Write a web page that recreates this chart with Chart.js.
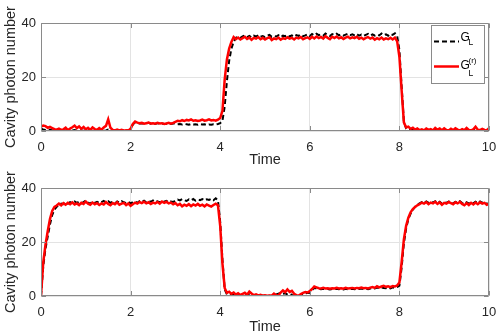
<!DOCTYPE html>
<html>
<head>
<meta charset="utf-8">
<script src="https://cdn.jsdelivr.net/npm/chart.js@4.4.1/dist/chart.umd.min.js"></script>
<style>
  html, body { margin: 0; padding: 0; background: #fff; }
  #wrap { position: relative; width: 499px; height: 336px; }
  canvas { position: absolute; left: 0; }
  #c1 { top: 0; }
  #c2 { top: 168px; }
</style>
</head>
<body>
<div id="wrap">
  <canvas id="c1" width="499" height="168"></canvas>
  <canvas id="c2" width="499" height="168"></canvas>
</div>
<script>
// ---- data (sampled every 0.05 time units, 0..10) ----
const times = Array.from({length: 201}, (_, i) => +(i * 0.05).toFixed(2));
const xTicks = [0, 2, 4, 6, 8, 10];
const yTicks = [0, 20, 40];
const seriesNames = ['G_L', 'G_L^(r)'];

const topGL = [
 0.9,0.6,0.4,0.3,0.5,0.2,0.3,0.1,0.2,0.1,
 0.3,0.2,0.1,0.3,0.2,0.4,0.1,0.3,0.2,0.1,
 0.2,0.3,0.1,0.2,0.4,0.1,0.2,0.3,0.1,0.2,
 0.5,0.3,0.1,0.2,0.1,0.3,0.1,0.2,0.1,0.2,
 0.6,2.4,3.2,3.0,2.8,2.9,2.7,2.8,3.0,2.7,
 2.8,2.6,2.9,2.7,2.8,2.6,2.7,2.9,2.6,2.8,
 2.7,2.5,2.6,2.4,2.6,2.5,2.3,2.6,2.4,2.5,
 2.3,2.6,2.4,2.5,2.2,2.4,2.3,2.5,2.4,2.6,
 2.9,3.8,9.0,18.5,26.0,30.5,33.0,34.5,34.9,34.5,
 35.0,35.4,34.8,35.2,34.7,35.3,35.0,35.5,34.9,35.2,
 34.8,35.3,35.6,34.9,35.2,35.0,35.5,34.8,35.3,35.1,
 35.6,35.0,35.4,34.9,35.5,35.2,35.7,35.1,35.4,35.8,
 35.2,35.9,35.4,36.0,35.5,35.8,35.3,36.1,35.6,35.2,
 35.9,35.5,36.0,35.4,35.8,35.3,35.7,36.0,35.5,35.8,
 35.4,35.9,35.3,35.7,35.2,35.6,36.0,35.4,35.8,35.3,
 35.7,35.4,36.1,35.5,35.8,35.3,36.0,35.6,36.2,35.2,
 30.0,16.5,3.5,0.9,0.6,0.3,0.5,0.2,0.4,0.1,
 0.3,0.1,0.4,0.2,0.3,0.1,0.5,0.2,0.4,0.1,
 0.5,0.2,0.1,0.3,0.1,0.4,0.2,0.1,0.3,0.1,
 0.5,0.2,0.1,0.3,0.6,0.2,0.1,0.3,0.2,0.1,
 0.4
];
const topGLr = [
 1.6,2.0,1.8,1.2,1.5,1.1,0.7,0.5,0.9,0.4,
 0.6,1.2,0.3,0.9,1.4,2.0,1.1,1.7,0.8,1.5,
 0.6,1.2,0.4,1.3,0.7,0.4,1.1,0.5,1.3,1.9,
 4.3,1.2,0.4,0.2,0.5,0.2,0.4,0.1,0.3,0.2,
 0.8,2.6,3.5,3.1,2.9,3.0,2.7,2.9,3.1,2.8,
 2.9,2.7,3.0,2.8,2.9,2.6,2.8,3.0,2.7,3.0,
 3.4,3.8,3.6,4.0,3.7,4.1,3.9,4.3,3.8,4.0,
 3.7,3.9,4.2,3.8,4.0,4.3,3.9,4.1,3.8,4.2,
 4.8,7.5,19.0,26.5,30.5,33.0,34.8,34.0,34.6,33.9,
 34.4,34.9,34.1,34.6,33.8,34.5,34.2,34.8,34.0,34.5,
 33.9,34.4,34.7,33.7,34.3,34.0,34.6,33.8,34.4,34.1,
 34.7,34.2,34.5,33.9,34.6,34.3,34.8,34.0,34.4,34.7,
 34.1,34.9,34.3,35.0,34.4,34.8,34.2,35.1,34.5,34.0,
 34.9,34.4,35.0,34.3,34.7,34.1,34.6,34.9,34.3,34.7,
 34.4,34.9,34.2,34.6,34.0,34.5,34.8,34.2,34.6,33.8,
 34.4,34.0,34.6,33.9,34.3,34.0,34.5,33.9,34.6,33.2,
 27.5,15.0,3.2,1.3,1.6,0.8,1.2,0.5,0.9,0.3,
 0.6,0.2,0.9,0.4,0.7,0.2,1.1,0.5,0.9,0.3,
 1.0,0.4,0.2,0.8,0.3,1.0,0.5,0.2,0.7,0.3,
 1.1,0.4,0.2,0.6,1.6,0.5,0.3,0.8,0.4,0.3,
 1.0
];
const botGL = [
 0.0,11.0,17.5,22.0,26.5,30.0,32.0,33.0,33.8,34.2,
 34.0,34.6,34.2,34.8,34.4,35.0,34.5,34.9,34.3,34.8,
 35.3,34.6,34.2,35.0,34.5,34.9,34.4,34.8,35.2,34.6,
 35.1,34.5,34.9,34.3,35.0,34.6,35.1,34.7,34.4,34.9,
 34.3,34.8,35.0,34.5,35.1,34.8,35.3,34.7,35.2,34.9,
 35.4,34.8,35.1,34.7,35.3,34.9,35.2,34.6,35.0,34.8,
 35.3,35.7,35.4,35.9,35.5,35.2,35.8,35.4,35.9,35.3,
 35.7,35.5,35.9,35.4,35.8,35.6,36.0,35.5,36.2,35.4,
 27.5,13.5,2.5,0.6,0.4,0.3,0.5,0.2,0.4,0.1,
 0.3,0.6,0.2,0.8,0.4,0.1,0.3,0.1,0.2,0.1,
 0.1,0.0,0.1,0.0,0.3,0.6,0.9,1.2,0.8,1.0,
 0.6,0.8,0.4,0.2,0.1,0.0,0.3,0.7,1.0,1.1,
 1.2,2.2,3.0,2.9,2.6,2.5,2.7,2.5,2.6,2.4,
 2.6,2.5,2.7,2.5,2.6,2.4,2.7,2.5,2.6,2.7,
 2.5,2.7,2.6,2.8,2.6,2.7,2.5,2.8,3.0,2.8,
 3.1,2.9,3.2,3.0,2.9,3.1,2.8,3.2,3.0,3.3,
 3.8,10.5,19.5,25.0,28.5,30.5,32.0,33.0,33.8,34.3,
 34.8,34.4,35.0,34.5,34.9,34.6,35.1,34.4,34.9,34.2,
 34.8,34.5,35.0,34.7,34.3,34.9,34.6,35.1,34.4,34.0,
 34.7,34.2,34.8,34.3,34.9,34.4,35.0,34.5,34.8,34.2,
 34.3
];
const botGLr = [
 0.0,12.5,19.0,24.0,28.5,31.5,33.0,33.5,34.2,33.6,
 34.4,33.8,34.5,34.0,34.7,33.9,34.3,33.7,34.5,34.1,
 35.0,34.2,33.8,34.6,34.0,34.4,33.7,34.3,33.9,34.8,
 34.1,33.6,34.4,34.0,34.7,33.8,34.2,34.5,33.7,34.3,
 33.4,34.0,34.6,34.2,34.8,34.4,34.9,34.3,34.7,34.1,
 34.6,34.3,34.8,34.2,35.0,34.5,34.9,34.3,34.6,34.0,
 34.4,33.6,34.1,33.2,33.8,33.4,34.0,33.3,33.9,33.5,
 34.1,33.4,33.8,33.2,33.9,33.5,33.1,33.7,34.2,33.6,
 26.0,12.0,3.0,1.2,1.6,0.8,1.3,0.5,1.0,0.4,
 0.8,1.2,0.5,1.6,0.9,0.3,0.6,0.2,0.4,0.1,
 0.3,0.1,0.2,0.1,0.9,0.3,0.2,1.3,2.1,1.4,
 2.4,1.5,1.9,0.8,0.3,0.1,0.7,1.2,1.5,1.3,
 1.8,2.6,3.5,3.2,2.9,2.8,3.0,2.8,2.9,2.7,
 2.9,2.8,3.0,2.8,2.9,2.7,3.0,2.8,2.9,3.0,
 2.8,3.0,2.9,3.1,2.9,3.0,2.8,3.1,3.3,3.0,
 3.6,3.2,3.5,3.8,3.4,3.6,3.3,3.7,3.5,3.9,
 5.0,12.5,21.0,26.0,29.0,31.0,32.2,33.0,33.6,34.0,
 34.6,34.2,34.8,34.0,34.6,34.3,34.9,34.1,34.7,33.8,
 34.5,34.2,34.8,34.4,34.0,34.7,34.3,34.9,34.1,33.6,
 34.4,33.7,34.5,33.9,34.6,34.0,34.7,34.2,34.5,33.8,
 34.1
];

// ---- styling ----
const FONT = "'Liberation Sans', Arial, Helvetica, sans-serif";
Chart.defaults.font.family = FONT;
Chart.defaults.color = '#262626';

const boxPlugin = {
  id: 'matlabBox',
  afterDatasetsDraw(chart) {
    const {ctx, chartArea: a, scales: {x, y}} = chart;
    ctx.save();
    ctx.strokeStyle = '#8a8a8a';
    ctx.lineWidth = 1;
    const L = Math.round(a.left) + 0.5, R = Math.round(a.right) - 0.5;
    const T = Math.round(a.top) + 0.5, B = Math.round(a.bottom) - 0.5;
    ctx.beginPath();
    ctx.rect(L, T, R - L, B - T);
    const tl = 4.5;
    xTicks.forEach(v => {
      const px = Math.round(x.getPixelForValue(v)) + 0.5;
      ctx.moveTo(px, B); ctx.lineTo(px, B - tl);
      ctx.moveTo(px, T); ctx.lineTo(px, T + tl);
    });
    yTicks.forEach(v => {
      const py = Math.round(y.getPixelForValue(v)) + 0.5;
      ctx.moveTo(L, py); ctx.lineTo(L + tl, py);
      ctx.moveTo(R, py); ctx.lineTo(R - tl, py);
    });
    ctx.stroke();
    ctx.restore();
  }
};

const legendPlugin = {
  id: 'matlabLegend',
  afterDraw(chart, args, opts) {
    if (!opts || !opts.show) return;
    const ctx = chart.ctx;
    ctx.save();
    ctx.fillStyle = '#fff';
    ctx.fillRect(431, 25, 53, 58);
    ctx.strokeStyle = '#8a8a8a';
    ctx.lineWidth = 1;
    ctx.strokeRect(431.5, 25.5, 53, 58);
    ctx.strokeStyle = '#000';
    ctx.lineWidth = 2;
    ctx.setLineDash([5, 3]);
    ctx.beginPath(); ctx.moveTo(434, 41.5); ctx.lineTo(459, 41.5); ctx.stroke();
    ctx.setLineDash([]);
    ctx.strokeStyle = '#ff0000';
    ctx.lineWidth = 2.5;
    ctx.beginPath(); ctx.moveTo(434, 66.5); ctx.lineTo(459, 66.5); ctx.stroke();
    ctx.fillStyle = '#000';
    ctx.textBaseline = 'alphabetic';
    ctx.textAlign = 'left';
    ctx.font = '12px ' + FONT;
    ctx.fillText('G', 460.5, 41);
    ctx.fillText('G', 460.5, 68.5);
    ctx.font = '8.5px ' + FONT;
    ctx.fillText('L', 468.5, 45);
    ctx.fillText('L', 468.5, 75.5);
    ctx.font = '8px ' + FONT;
    ctx.fillText('(r)', 468.5, 62.5);
    ctx.restore();
  }
};

function makeChart(id, gl, glr, padTop, xAxisH, xTitlePadBottom, showLegend) {
  return new Chart(document.getElementById(id), {
    type: 'line',
    data: {
      labels: times,
      datasets: [
        { label: seriesNames[0], data: gl, borderColor: '#000000', borderWidth: 2,
          borderDash: [5, 3], pointRadius: 0, tension: 0, fill: false, order: 2 },
        { label: seriesNames[1], data: glr, borderColor: '#ff0000', borderWidth: 2.5,
          pointRadius: 0, tension: 0, fill: false, order: 1 }
      ]
    },
    options: {
      responsive: false,
      animation: false,
      devicePixelRatio: 1,
      layout: { padding: { top: padTop, right: 10, left: 0, bottom: 0 } },
      plugins: {
        legend: { display: false },
        tooltip: { enabled: false },
        matlabLegend: { show: showLegend }
      },
      scales: {
        x: {
          type: 'linear', min: 0, max: 10,
          afterBuildTicks: s => { s.ticks = xTicks.map(v => ({value: v})); },
          ticks: { font: { size: 13 }, padding: 9, maxRotation: 0, color: '#262626' },
          grid: { color: '#e3e3e3', drawTicks: false, lineWidth: 1 },
          border: { display: false },
          title: { display: true, text: 'Time', font: { size: 14.5 }, color: '#262626',
                   padding: { top: 0, bottom: xTitlePadBottom } },
          afterFit: s => { s.height = xAxisH; s.paddingLeft = 0; s.paddingRight = 0; }
        },
        y: {
          min: 0, max: 40,
          afterBuildTicks: s => { s.ticks = yTicks.map(v => ({value: v})); },
          ticks: { font: { size: 13 }, padding: 5, color: '#262626' },
          grid: { color: '#e3e3e3', drawTicks: false, lineWidth: 1 },
          border: { display: false },
          title: { display: true, text: 'Cavity photon number', font: { size: 14.5 },
                   color: '#262626', padding: { top: 2, bottom: 0 } },
          afterFit: s => { s.width = 41; s.paddingTop = 0; s.paddingBottom = 0; }
        }
      }
    },
    plugins: [boxPlugin, legendPlugin]
  });
}

makeChart('c1', topGL, topGLr, 23, 37, -1, true);
makeChart('c2', botGL, botGLr, 20, 40, 0, false);
</script>
</body>
</html>
